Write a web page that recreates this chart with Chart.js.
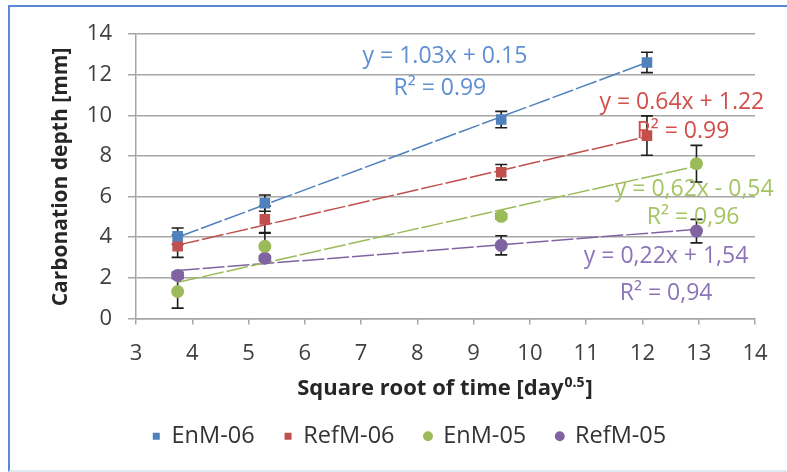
<!DOCTYPE html>
<html>
<head>
<meta charset="utf-8">
<script src="https://cdn.jsdelivr.net/npm/chart.js@4.4.1/dist/chart.umd.min.js"></script>
<style>
  html, body { margin: 0; padding: 0; background: #fff; }
  #wrap { position: relative; width: 787px; height: 472px; overflow: hidden; }
  #frame { position: absolute; left: 8px; top: 5px; width: 800px; height: 463px;
           border-left: 2px solid #5a8ad6; border-top: 2px solid #5a8ad6; border-bottom: 2px solid #dfe9f6; }
  canvas { position: absolute; left: 0; top: 0; }
</style>
</head>
<body>
<div id="wrap">
  <div id="frame"></div>
  <canvas id="carbChart" width="787" height="472"></canvas>
</div>
<script>
  // square root of exposure time, day^0.5
  const time06 = [3.74, 5.29, 9.49, 12.08];
  const time05 = [3.74, 5.29, 9.49, 12.96];

  // carbonation depth [mm] and error bar half-widths
  const enm06 = [4.05, 5.68, 9.79, 12.6];
  const enm06Err = [0.4, 0.4, 0.4, 0.5];
  const refm06 = [3.56, 4.88, 7.2, 9.0];
  const refm06Err = [0.55, 0.65, 0.38, 0.97];
  const enm05 = [1.33, 3.55, 5.03, 7.62];
  const enm05Err = [0.82, 0.65, 0.12, 0.9];
  const refm05 = [2.12, 2.97, 3.6, 4.3];
  const refm05Err = [0.15, 0.12, 0.47, 0.58];

  // linear trendline end points
  const trendEnm06 = [4.0, 12.6];
  const trendRefm06 = [3.61, 8.95];
  const trendEnm05 = [1.78, 7.5];
  const trendRefm05 = [2.36, 4.39];

  const xTicks = [3, 4, 5, 6, 7, 8, 9, 10, 11, 12, 13, 14];
  const yTicks = [0, 2, 4, 6, 8, 10, 12, 14];

  // trendline equations, placed in data coordinates
  const eqLabels = [
    { text: 'y = 1.03x + 0.15', x: 8.49, y: 12.89, color: '#5f8fd2' },
    { text: 'R² = 0.99', x: 8.40, y: 11.34, color: '#5f8fd2' },
    { text: 'y = 0.64x + 1.22', x: 12.70, y: 10.65, color: '#d24f4c' },
    { text: 'R² = 0.99', x: 12.72, y: 9.22, color: '#d24f4c' },
    { text: 'y = 0,62x - 0,54', x: 12.92, y: 6.36, color: '#a5c463' },
    { text: 'R² = 0,96', x: 12.90, y: 4.98, color: '#a5c463' },
    { text: 'y = 0,22x + 1,54', x: 12.42, y: 3.06, color: '#8c74b8' },
    { text: 'R² = 0,94', x: 12.42, y: 1.23, color: '#8c74b8' }
  ];

  const BLUE = '#4f81bd', RED = '#c0504d', GREEN = '#9bbb59', PURPLE = '#8064a2';
  const GRID = '#a6a6a6';
  const FONT = '"Open Sans", sans-serif';

  const toPts = (xs, ys) => xs.map((x, i) => ({ x: x, y: ys[i] }));

  function seriesSet(label, xs, ys, errs, color, shape) {
    return {
      label: label,
      data: toPts(xs, ys),
      errors: errs,
      showLine: false,
      pointStyle: shape,
      pointRadius: shape === 'rect' ? 7.5 : 6.5,
      pointHoverRadius: 7,
      backgroundColor: color,
      borderColor: color,
      borderWidth: 0
    };
  }

  function trendSet(xs, ys, color) {
    return {
      label: 'trend',
      data: [{ x: xs[0], y: ys[0] }, { x: xs[xs.length - 1], y: ys[1] }],
      showLine: true,
      pointRadius: 0,
      borderColor: color,
      borderWidth: 1.5,
      borderDash: [22, 3],
      fill: false
    };
  }

  const errorBars = {
    id: 'errorBars',
    beforeDatasetsDraw(chart) {
      const { ctx, scales: { x, y } } = chart;
      ctx.save();
      ctx.strokeStyle = '#1e1e1e';
      ctx.lineWidth = 1.6;
      chart.data.datasets.forEach(ds => {
        if (!ds.errors) return;
        ds.data.forEach((p, i) => {
          const px = x.getPixelForValue(p.x);
          const top = y.getPixelForValue(p.y + ds.errors[i]);
          const bot = y.getPixelForValue(p.y - ds.errors[i]);
          ctx.beginPath();
          ctx.moveTo(px, top); ctx.lineTo(px, bot);
          ctx.moveTo(px - 6, top); ctx.lineTo(px + 6, top);
          ctx.moveTo(px - 6, bot); ctx.lineTo(px + 6, bot);
          ctx.stroke();
        });
      });
      ctx.restore();
    }
  };

  const labelsPlugin = {
    id: 'labelsPlugin',
    afterDatasetsDraw(chart) {
      const { ctx, scales: { x, y } } = chart;
      ctx.save();
      ctx.font = '23px ' + FONT;
      ctx.textAlign = 'center';
      ctx.textBaseline = 'middle';
      eqLabels.forEach(l => {
        ctx.fillStyle = l.color;
        ctx.fillText(l.text, x.getPixelForValue(l.x), y.getPixelForValue(l.y));
      });

      // axis titles
      ctx.fillStyle = '#262626';
      ctx.font = 'bold 21px ' + FONT;
      ctx.save();
      ctx.translate(61, 177);
      ctx.rotate(-Math.PI / 2);
      ctx.fillText('Carbonation depth [mm]', 0, 0);
      ctx.restore();

      const main = 'Square root of time [day';
      const sup = '0.5';
      const tail = ']';
      ctx.font = 'bold 22px ' + FONT;
      const wMain = ctx.measureText(main).width;
      const wTail = ctx.measureText(tail).width;
      ctx.font = 'bold 14px ' + FONT;
      const wSup = ctx.measureText(sup).width;
      let cx = 444 - (wMain + wSup + wTail) / 2;
      const cy = 389;
      ctx.textAlign = 'left';
      ctx.font = 'bold 22px ' + FONT;
      ctx.fillText(main, cx, cy);
      cx += wMain + 1;
      ctx.font = 'bold 14px ' + FONT;
      ctx.fillText(sup, cx, cy - 6);
      cx += wSup + 1;
      ctx.font = 'bold 22px ' + FONT;
      ctx.fillText(tail, cx, cy);
      ctx.restore();
    }
  };

  new Chart(document.getElementById('carbChart'), {
    type: 'scatter',
    data: {
      datasets: [
        seriesSet('EnM-06', time06, enm06, enm06Err, BLUE, 'rect'),
        seriesSet('RefM-06', time06, refm06, refm06Err, RED, 'rect'),
        seriesSet('EnM-05', time05, enm05, enm05Err, GREEN, 'circle'),
        seriesSet('RefM-05', time05, refm05, refm05Err, PURPLE, 'circle'),
        trendSet(time06, trendEnm06, BLUE),
        trendSet(time06, trendRefm06, RED),
        trendSet(time05, trendEnm05, GREEN),
        trendSet(time05, trendRefm05, PURPLE)
      ]
    },
    options: {
      responsive: false,
      animation: false,
      layout: { padding: { left: 64, right: 32, top: 34, bottom: 14 } },
      scales: {
        x: {
          type: 'linear',
          min: 3, max: 14,
          afterBuildTicks: s => { s.ticks = xTicks.map(v => ({ value: v })); },
          afterFit: s => { s.height = 76; },
          grid: { drawOnChartArea: false, drawTicks: true, tickLength: 6, color: GRID, lineWidth: 1.5 },
          border: { color: GRID, width: 1.5 },
          ticks: { color: '#404040', font: { family: FONT, size: 22 }, padding: 16, maxRotation: 0 }
        },
        y: {
          min: 0, max: 14,
          afterBuildTicks: s => { s.ticks = yTicks.map(v => ({ value: v })); },
          afterFit: s => { s.width = 72; },
          grid: { color: GRID, lineWidth: 1.5, tickLength: 8 },
          border: { color: GRID, width: 1.5 },
          ticks: { color: '#404040', font: { family: FONT, size: 22 }, padding: 16 }
        }
      },
      plugins: {
        legend: {
          position: 'bottom',
          labels: {
            filter: item => item.text !== 'trend',
            usePointStyle: true,
            boxWidth: 7,
            boxHeight: 7,
            padding: 30,
            color: '#333333',
            font: { family: FONT, size: 23.5 }
          }
        },
        tooltip: { enabled: false }
      }
    },
    plugins: [errorBars, labelsPlugin]
  });
</script>
</body>
</html>
